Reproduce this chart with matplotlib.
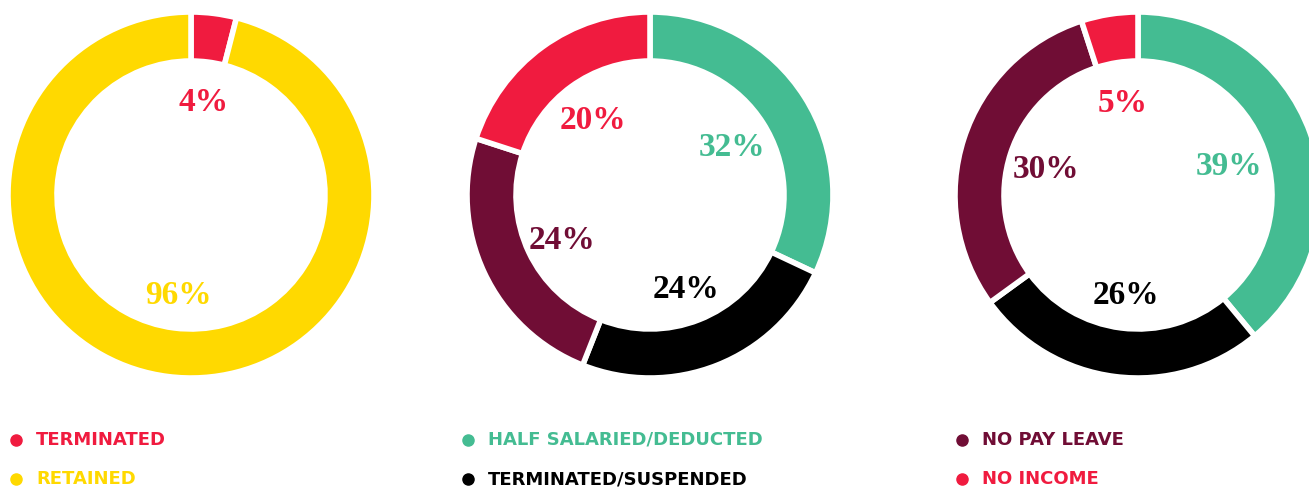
import matplotlib.pyplot as plt

# colori
RED = '#F01B3F'
YELLOW = '#FFD900'
GREEN = '#44BC92'
BLACK = '#000000'
MAROON = '#700D35'

# dati dei tre grafici
vals_1 = [4, 96]
cols_1 = [RED, YELLOW]
vals_2 = [32, 24, 24, 20]
cols_2 = [GREEN, BLACK, MAROON, RED]
vals_3 = [39, 26, 30, 5]
cols_3 = [GREEN, BLACK, MAROON, RED]

leg_1 = ['TERMINATED', 'RETAINED']
leg_1_cols = [RED, YELLOW]
leg_2 = ['HALF SALARIED/DEDUCTED', 'TERMINATED/SUSPENDED']
leg_2_cols = [GREEN, BLACK]
leg_3 = ['NO PAY LEAVE', 'NO INCOME']
leg_3_cols = [MAROON, RED]

W, H = 1309, 487
fig = plt.figure(figsize=(W/100, H/100), dpi=100)
ax = fig.add_axes([0, 0, 1, 1])

R = 183
centri = [(191, H-195), (650, H-195), (1138, H-195)]

for (cx, cy), vals, cols in zip(centri, [vals_1, vals_2, vals_3], [cols_1, cols_2, cols_3]):
    wedges, txt, auto = ax.pie(vals, colors=cols, center=(cx, cy), radius=R,
                               startangle=90, counterclock=False,
                               autopct='%d%%', pctdistance=0.53,
                               wedgeprops=dict(width=49, edgecolor='white', linewidth=4),
                               frame=True)
    for t, c in zip(auto, cols):
        t.set_color(c)
        t.set_fontsize(24)
        t.set_fontweight('bold')
        t.set_family('Liberation Serif')
        x, y = t.get_position()
        t.set_position((x, y - 4))

ax.set_xlim(0, W)
ax.set_ylim(0, H)
ax.set_aspect('equal')
ax.axis('off')

# legende
for x0, labs, lcols in [(16, leg_1, leg_1_cols), (468, leg_2, leg_2_cols), (962, leg_3, leg_3_cols)]:
    for i, (lab, c) in enumerate(zip(labs, lcols)):
        y = H - (440 + 39*i)
        ax.plot(x0, y, 'o', color=c, markersize=8)
        ax.text(x0 + 20, y, lab, color=c, fontsize=13, fontweight='bold',
                va='center', ha='left', family='DejaVu Sans')

fig.savefig('out.png', dpi=100)
